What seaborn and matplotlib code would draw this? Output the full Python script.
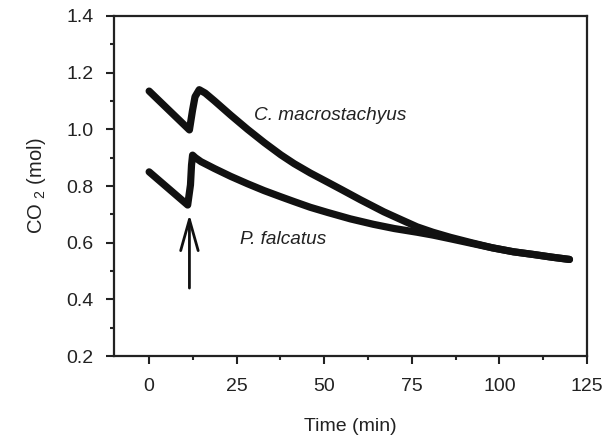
import matplotlib
matplotlib.use("Agg")
import matplotlib.pyplot as plt
import numpy as np
import pandas as pd
import seaborn as sns
from matplotlib.ticker import MultipleLocator

sns.set_style("ticks")
plt.rcParams['font.family'] = ['Liberation Sans', 'DejaVu Sans']
plt.rcParams['mathtext.fontset'] = 'custom'
plt.rcParams['mathtext.rm'] = 'Liberation Sans'

# C. macrostachyus
c_time = [0, 11.5, 12.4, 13.1, 14.3, 16, 18.6, 23.3, 28.1, 32.9, 37.6, 41.4, 46, 50.9, 55,
          60.4, 67, 72, 76.5, 81, 86, 92, 98, 104, 110, 115, 120]
c_co2 = [1.135, 0.998, 1.068, 1.115, 1.14, 1.128, 1.101, 1.050, 1.000, 0.953, 0.910, 0.879,
         0.846, 0.814, 0.787, 0.751, 0.709, 0.681, 0.656, 0.637, 0.619, 0.600, 0.582,
         0.568, 0.558, 0.549, 0.541]

# P. falcatus
p_time = [0, 11, 11.8, 12.1, 12.4, 13.2, 14.8, 18.6, 23.3, 28.1, 32.8, 37.6, 41.4, 46, 50.9,
          57.5, 64, 70, 76.5, 81, 86, 92, 98, 104, 110, 115, 120]
p_co2 = [0.85, 0.733, 0.804, 0.874, 0.909, 0.900, 0.886, 0.862, 0.834, 0.808, 0.784, 0.762,
         0.745, 0.725, 0.707, 0.684, 0.665, 0.650, 0.637, 0.627, 0.614, 0.598, 0.582,
         0.568, 0.558, 0.549, 0.541]

df = pd.concat([
    pd.DataFrame({'time': c_time, 'co2': c_co2, 'species': 'C. macrostachyus'}),
    pd.DataFrame({'time': p_time, 'co2': p_co2, 'species': 'P. falcatus'}),
])

fig = plt.figure(figsize=(6.07, 4.44), dpi=100)
ax = fig.add_axes([0.188, 0.198, 0.779, 0.766])

sns.lineplot(data=df, x='time', y='co2', units='species', estimator=None, sort=False,
             color='#111111', linewidth=5.2, solid_capstyle='round', solid_joinstyle='round', ax=ax)

ax.annotate('', xy=(11.5, 0.70), xytext=(11.5, 0.44),
            arrowprops=dict(arrowstyle='->,head_length=1.6,head_width=0.45',
                            mutation_scale=14, lw=2, color='#111111', shrinkA=0, shrinkB=0))

ax.text(30, 1.05, 'C. macrostachyus', style='italic', fontsize=13.7, va='center', color='#222222')
ax.text(26, 0.61, 'P. falcatus', style='italic', fontsize=13.7, va='center', color='#222222')

ax.set_xlim(-10, 125)
ax.set_ylim(0.2, 1.4)
ax.xaxis.set_minor_locator(MultipleLocator(12.5))
ax.yaxis.set_minor_locator(MultipleLocator(0.1))
ax.set_xticks(np.arange(0, 126, 25))
ax.set_yticks(np.arange(0.2, 1.41, 0.2))
ax.set_yticklabels([f'{v:.1f}' for v in np.arange(0.2, 1.41, 0.2)])

ax.tick_params(which='major', direction='out', length=6, width=1.5, labelsize=14, colors='#222222')
ax.tick_params(which='minor', direction='out', length=3, width=1.5)
ax.tick_params(axis='y', which='major', pad=9)
ax.tick_params(axis='x', which='major', pad=10)
for s in ax.spines.values():
    s.set_linewidth(1.6)
    s.set_color('#222222')

ax.set_xlabel('Time (min)', fontsize=14, color='#222222', labelpad=16)
ax.set_ylabel('CO $_2$ (mol)', fontsize=14.5, color='#222222', labelpad=13)

fig.savefig('out.png', dpi=100)
